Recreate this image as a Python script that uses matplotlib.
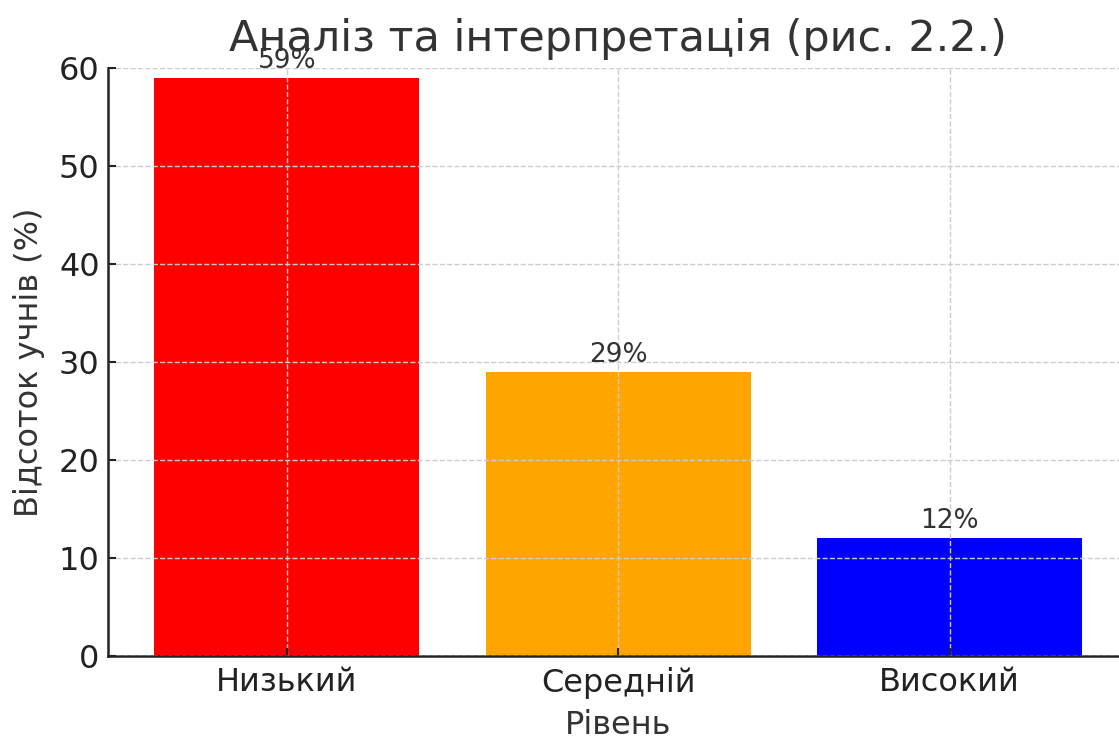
import matplotlib
matplotlib.use('Agg')
import matplotlib.pyplot as plt

levels = ['Низький', 'Середній', 'Високий']
percents = [59, 29, 12]
colors = ['red', 'orange', 'blue']

plt.rcParams['font.family'] = 'DejaVu Sans'

fig = plt.figure(figsize=(11.19, 7.36), dpi=100)
ax = fig.add_axes([0.0965, 0.1087, 0.912, 0.799])

bars = ax.bar(levels, percents, color=colors, width=0.8)
for b, p in zip(bars, percents):
    ax.text(b.get_x() + b.get_width() / 2, b.get_height() + 0.4, f'{p}%',
            ha='center', va='bottom', fontsize=19, color='#333333')

ax.set_ylim(0, 60)
ax.set_title('Аналіз та інтерпретація (рис. 2.2.)', fontsize=31, color='#333333', pad=12)
ax.set_xlabel('Рівень', fontsize=23, color='#333333', labelpad=8)
ax.set_ylabel('Відсоток учнів (%)', fontsize=23, color='#333333', labelpad=10)
ax.tick_params(axis='both', labelsize=23, colors='#222222', width=1.5, length=6,
               direction='in')
ax.tick_params(axis='x', pad=8)
ax.tick_params(axis='y', pad=6)
ax.set_yticks([0, 10, 20, 30, 40, 50, 60])

ax.grid(True, linestyle='--', color='#cccccc', linewidth=1)
ax.set_axisbelow(False)
for s in ['top', 'right']:
    ax.spines[s].set_visible(False)
for s in ['left', 'bottom']:
    ax.spines[s].set_linewidth(1.8)
    ax.spines[s].set_color('#222222')

fig.savefig('out.png', dpi=100)
